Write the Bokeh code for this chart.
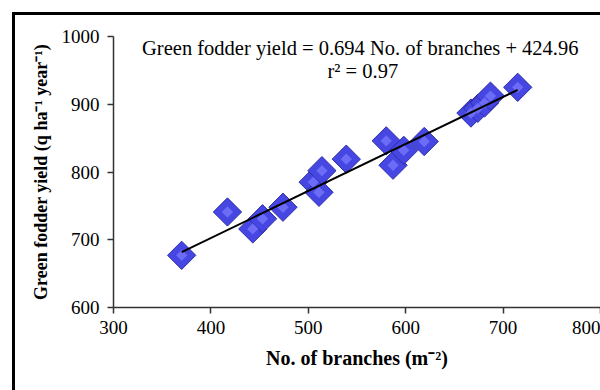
import numpy as np
from bokeh.plotting import figure
from bokeh.models import Label, FixedTicker, Range1d
from bokeh.embed import file_html
from bokeh.resources import INLINE

# Data
branches = [370, 417, 443, 453, 474, 505, 511, 514, 539, 580, 587, 598, 619, 667, 674, 681, 687, 715]
yield_q = [677, 741, 716, 731, 748, 785, 770, 802, 819, 846, 810, 832, 845, 887, 894, 902, 912, 925]
x_ticks = [300, 400, 500, 600, 700, 800]
y_ticks = [600, 700, 800, 900, 1000]
slope = 0.694
intercept = 424.96
r2 = 0.97

SERIF = "Liberation Serif"

p = figure(width=600, height=390, output_backend="svg", toolbar_location=None,
           x_range=Range1d(300, 800), y_range=Range1d(600, 1000),
           min_border_left=113, min_border_right=0, min_border_top=36, min_border_bottom=83)
p.outline_line_color = None
p.xgrid.visible = False
p.ygrid.visible = False
p.background_fill_color = "white"
p.border_fill_color = "white"

# chart frame: only its left and top edges fall inside the picture
p.stylesheets = [
    ":host { position: relative; }\n"
    ":host::after { content: ''; position: absolute; left: 12px; top: 12px; right: 0; bottom: 0;"
    " border-left: 3px solid black; border-top: 3px solid black; pointer-events: none; z-index: 10; }"
]

for ax in (p.xaxis[0], p.yaxis[0]):
    ax.axis_line_color = "#333333"
    ax.axis_line_width = 1.5
    ax.major_tick_line_color = "#333333"
    ax.major_tick_line_width = 1.5
    ax.major_tick_out = 6
    ax.major_tick_in = 0
    ax.minor_tick_line_color = None
    ax.major_label_text_font = SERIF
    ax.major_label_text_font_size = "19px"
    ax.major_label_text_color = "black"
    ax.axis_label_text_font = SERIF
    ax.axis_label_text_font_style = "bold"
    ax.axis_label_text_color = "black"

p.xaxis.ticker = FixedTicker(ticks=x_ticks)
p.yaxis.ticker = FixedTicker(ticks=y_ticks)
p.xaxis.major_label_standoff = 7
p.yaxis.major_label_standoff = 8
p.xaxis.axis_label = "No. of branches (m\u207b\u00b2)"
p.xaxis.axis_label_text_font_size = "20px"
p.xaxis.axis_label_standoff = 10
p.yaxis.axis_label = "Green fodder yield (q ha\u207b\u00b9 year\u207b\u00b9)"
p.yaxis.axis_label_text_font_size = "18px"
p.yaxis.axis_label_standoff = 8

# markers (pyramid-like diamonds)
p.scatter(branches, yield_q, marker="square", size=20, angle=np.pi / 4,
          fill_color="#4646e2", line_color="#2e2ea8", line_width=1)
p.scatter(branches, yield_q, marker="square", size=8, angle=np.pi / 4,
          fill_color="#6c6cf6", line_color=None)

# regression line
xl = np.array([min(branches), max(branches)], dtype=float)
p.line(xl, slope * xl + intercept, line_color="black", line_width=2)

p.add_layout(Label(x=556, y=983, text=f"Green fodder yield = {slope}  No. of branches + {intercept}",
                   text_font=SERIF, text_font_size="20.5px", text_align="center",
                   text_baseline="middle", text_color="black"))
p.add_layout(Label(x=556, y=949, text=f"r\u00b2 = {r2}",
                   text_font=SERIF, text_font_size="20.5px", text_align="center",
                   text_baseline="middle", text_color="black"))

open("out.html", "w").write(file_html(p, INLINE))
